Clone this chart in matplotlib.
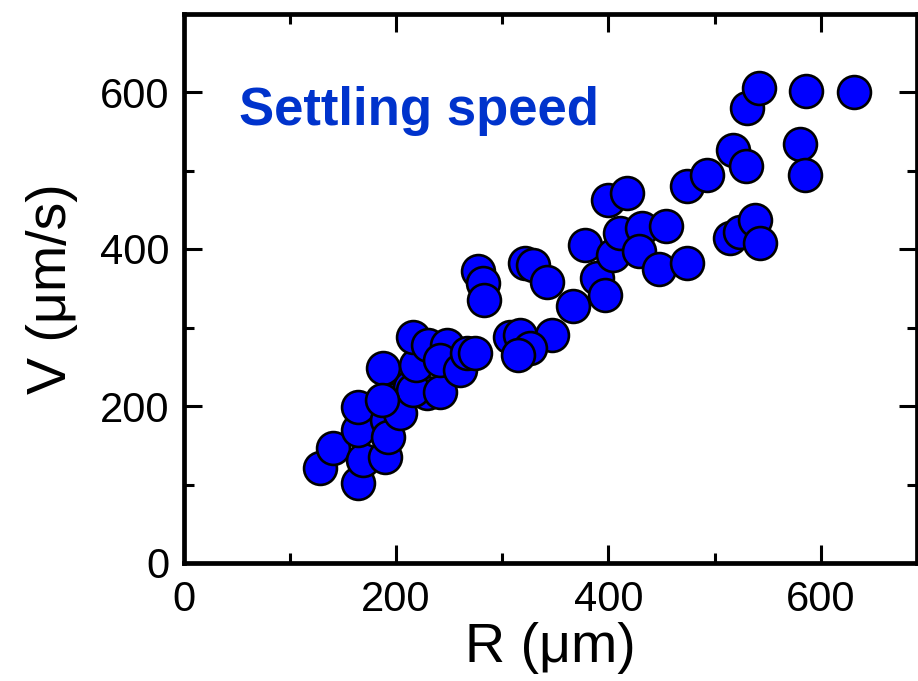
import matplotlib
matplotlib.use("Agg")
import matplotlib.pyplot as plt
from matplotlib.ticker import MultipleLocator

plt.rcParams['font.family'] = ['Liberation Sans', 'DejaVu Sans']

# Particle radius R (um) and settling speed V (um/s)
radius = [
    128.9, 141.2, 163.8, 168.5, 190.1, 164.7, 164.7, 197.6, 192.0, 192.9,
    204.2, 213.6, 229.6, 216.5, 241.9, 188.2, 218.4, 216.5, 230.6, 248.5,
    241.9, 260.7, 267.3, 274.8, 187.3,
    277.6, 282.4, 283.3, 321.9, 329.4, 342.6, 367.1, 389.6, 397.2, 378.4,
    404.7, 307.8, 317.2, 347.3, 326.6, 315.3,
    400.0, 417.9, 411.3, 432.0, 454.6, 429.2, 448.0, 474.4, 474.4, 493.2,
    517.6, 529.9, 514.8, 524.2, 538.4, 543.1, 530.8, 542.1, 586.4, 631.5,
    580.7, 585.4,
]
speed = [
    121.0, 146.5, 101.9, 131.2, 135.0, 169.4, 198.7, 207.6, 182.2, 160.5,
    191.1, 224.2, 216.6, 220.4, 217.8, 248.4, 252.2, 287.9, 277.7, 277.7,
    258.6, 245.9, 267.5, 267.5, 207.6,
    372.0, 356.7, 335.0, 382.2, 379.6, 358.0, 327.4, 363.1, 341.4, 405.1,
    392.4, 287.9, 290.4, 290.4, 273.9, 265.0,
    462.4, 471.3, 420.4, 426.8, 429.3, 397.5, 374.5, 382.2, 480.3, 494.3,
    526.1, 505.7, 414.0, 421.7, 436.9, 407.6, 579.6, 605.1, 601.3, 600.0,
    533.8, 494.3,
]

x_ticks = [0, 200, 400, 600]
y_ticks = [0, 200, 400, 600]

fig = plt.figure(figsize=(9.18, 6.81), dpi=100)
ax = fig.add_axes([183.5 / 918, 118 / 681, 733 / 918, 549.5 / 681])

ax.scatter(radius, speed, s=560, facecolor='#0000ff', edgecolor='black',
           linewidth=1.9, zorder=3, clip_on=False)

ax.set_xlim(0, 690)
ax.set_ylim(0, 700)
ax.set_xticks(x_ticks)
ax.set_yticks(y_ticks)
ax.xaxis.set_minor_locator(MultipleLocator(100))
ax.yaxis.set_minor_locator(MultipleLocator(100))

for side in ax.spines.values():
    side.set_linewidth(3.4)

ax.tick_params(which='both', direction='in', top=True, right=True, width=2.2)
ax.tick_params(which='major', length=13, labelsize=30)
ax.tick_params(axis='x', which='major', pad=12)
ax.tick_params(axis='y', which='major', pad=10)
ax.tick_params(which='minor', length=7)

ax.set_xlabel('R (μm)', fontsize=40, labelpad=2)
ax.set_ylabel('V (μm/s)', fontsize=40, labelpad=16)

ax.text(52, 558, 'Settling speed', fontsize=38, fontweight='bold',
        color='#0033cc', ha='left', va='baseline')

fig.savefig('out.png', dpi=100)
